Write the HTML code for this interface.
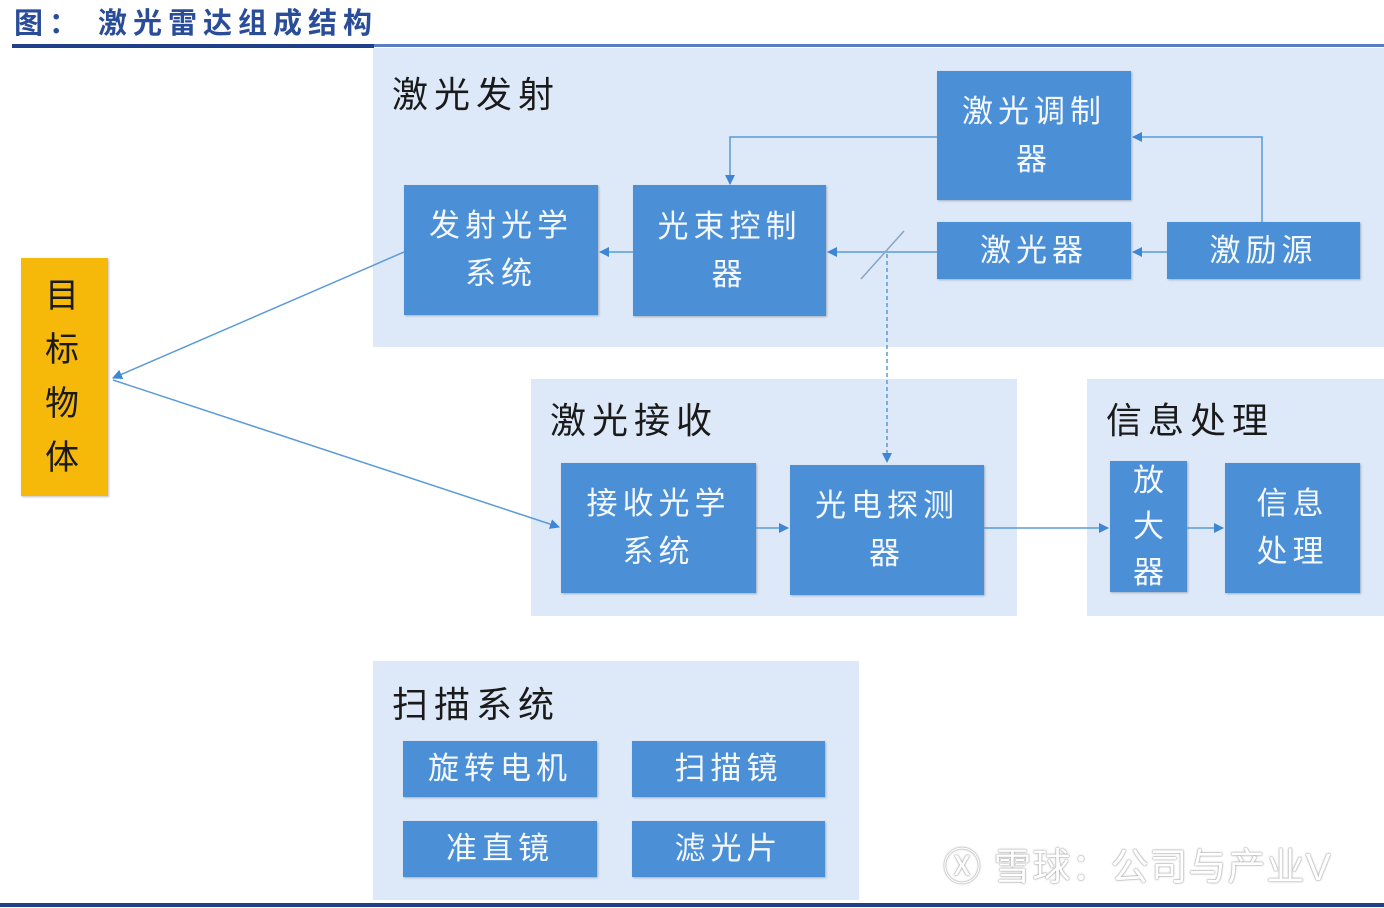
<!DOCTYPE html>
<html><head><meta charset="utf-8"><style>
body{margin:0;width:1384px;height:908px;background:#fff;position:relative;overflow:hidden;font-family:"Liberation Sans","Noto Sans CJK SC",sans-serif}
.p{position:absolute;background:#dde9f8}
.b{position:absolute;background:#4b8fd7;color:#f4f8fd;display:flex;align-items:center;justify-content:center;text-align:center;font-size:31px;line-height:48px;letter-spacing:5px;box-shadow:1px 1px 2px rgba(0,0,0,.25)}
.t{position:absolute;font-size:36px;color:#1a1a1a;letter-spacing:6px}
</style></head><body>
<div style="position:absolute;left:14px;top:0;font-size:29px;font-weight:bold;color:#2a4d99;letter-spacing:6px">图： 激光雷达组成结构</div>
<div style="position:absolute;left:12px;top:44px;width:362px;height:4px;background:#1f3f8a"></div>
<div style="position:absolute;left:374px;top:44px;width:1010px;height:3px;background:#5a7fc0"></div>
<div style="position:absolute;left:0;top:903px;width:1384px;height:4px;background:#1f3f8a"></div>

<div class="p" style="left:373px;top:48px;width:1011px;height:299px"></div>
<div class="p" style="left:531px;top:379px;width:486px;height:237px"></div>
<div class="p" style="left:1087px;top:379px;width:297px;height:237px"></div>
<div class="p" style="left:373px;top:661px;width:486px;height:239px"></div>

<div class="t" style="left:392px;top:66px">激光发射</div>
<div class="t" style="left:550px;top:392px">激光接收</div>
<div class="t" style="left:1106px;top:392px">信息处理</div>
<div class="t" style="left:392px;top:676px">扫描系统</div>

<div class="b" style="left:21px;top:258px;width:87px;height:238px;background:#f6b90a;color:#1a1a1a;font-size:34px;line-height:54px;flex-direction:column">目<br>标<br>物<br>体</div>
<div class="b" style="left:937px;top:71px;width:194px;height:129px">激光调制<br>器</div>
<div class="b" style="left:404px;top:185px;width:194px;height:130px">发射光学<br>系统</div>
<div class="b" style="left:633px;top:185px;width:193px;height:131px">光束控制<br>器</div>
<div class="b" style="left:937px;top:222px;width:194px;height:57px">激光器</div>
<div class="b" style="left:1167px;top:222px;width:193px;height:57px">激励源</div>
<div class="b" style="left:561px;top:463px;width:195px;height:130px">接收光学<br>系统</div>
<div class="b" style="left:790px;top:465px;width:194px;height:130px">光电探测<br>器</div>
<div class="b" style="left:1110px;top:461px;width:77px;height:131px;line-height:46px;letter-spacing:0">放<br>大<br>器</div>
<div class="b" style="left:1225px;top:463px;width:135px;height:130px">信息<br>处理</div>
<div class="b" style="left:403px;top:741px;width:194px;height:56px">旋转电机</div>
<div class="b" style="left:632px;top:741px;width:193px;height:56px">扫描镜</div>
<div class="b" style="left:403px;top:821px;width:194px;height:56px">准直镜</div>
<div class="b" style="left:632px;top:821px;width:193px;height:56px">滤光片</div>

<svg style="position:absolute;left:0;top:0" width="1384" height="908">
<defs><marker id="a" markerWidth="10" markerHeight="10" refX="9" refY="5" orient="auto" markerUnits="userSpaceOnUse"><path d="M0,0 L10,5 L0,10 z" fill="#3d86d6"/></marker></defs>
<g stroke="#5b9bd8" stroke-width="1.5" fill="none">
<polyline points="937,137 730,137 730,184" marker-end="url(#a)"/>
<polyline points="1262,222 1262,137 1133,137" marker-end="url(#a)"/>
<line x1="1167" y1="252" x2="1133" y2="252" marker-end="url(#a)"/>
<line x1="937" y1="252" x2="828" y2="252" marker-end="url(#a)"/>
<line x1="633" y1="252" x2="600" y2="252" marker-end="url(#a)"/>
<line x1="404" y1="252" x2="113" y2="378" marker-end="url(#a)"/>
<line x1="113" y1="380" x2="559" y2="527" marker-end="url(#a)"/>
<line x1="756" y1="528" x2="788" y2="528" marker-end="url(#a)"/>
<line x1="984" y1="528" x2="1108" y2="528" marker-end="url(#a)"/>
<line x1="1187" y1="528" x2="1223" y2="528" marker-end="url(#a)"/>
<line x1="887" y1="254" x2="887" y2="462" stroke-dasharray="4,3" marker-end="url(#a)"/>
<line x1="861" y1="279" x2="904" y2="231" stroke="#8aa4c4"/>
</g></svg>
<div style="position:absolute;left:943px;top:836px;font-size:38px;color:#fff;letter-spacing:1px;text-shadow:0 0 2px #999,0 0 1px #777">Ⓧ 雪球：公司与产业V</div>
</body></html>
